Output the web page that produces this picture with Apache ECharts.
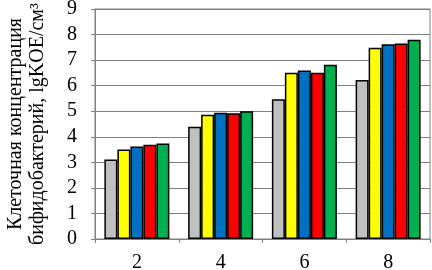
<!DOCTYPE html>
<html><head><meta charset="utf-8">
<script src="https://cdn.jsdelivr.net/npm/echarts@6/dist/echarts.min.js"></script>
<style>html,body{margin:0;padding:0;background:#fff}#c{width:432px;height:270px}</style>
</head><body><div id="c"></div>
<script>
var categories = ['2', '4', '6', '8'];
var seriesGray   = [3.11, 4.39, 5.47, 6.22];
var seriesYellow = [3.50, 4.86, 6.51, 7.48];
var seriesBlue   = [3.62, 4.94, 6.59, 7.62];
var seriesRed    = [3.69, 4.92, 6.51, 7.65];
var seriesGreen  = [3.74, 5.00, 6.82, 7.80];
var colors = ['#C0C0C0', '#FFFF00', '#0070C0', '#FF0000', '#00B050'];
var yTitle = 'Клеточная концентрация\nбифидобактерий, lgKOE/см³';

var chart = echarts.init(document.getElementById('c'), null, {renderer: 'canvas'});
var font = '"Liberation Serif", "Times New Roman", serif';
var all = [seriesGray, seriesYellow, seriesBlue, seriesRed, seriesGreen];
chart.setOption({
  animation: false,
  textStyle: {fontFamily: font},
  grid: {left: 95, right: 2, top: 9, bottom: 31, outerBoundsMode: 'none', containLabel: false,
         show: true, borderColor: '#808080', borderWidth: 1, backgroundColor: 'transparent'},
  xAxis: {
    type: 'category', data: categories,
    axisLine: {lineStyle: {color: '#808080', width: 1}},
    axisTick: {show: true, length: 4, lineStyle: {color: '#808080'}},
    axisLabel: {color: '#000', fontSize: 20, fontFamily: font, margin: 14}
  },
  yAxis: {
    type: 'value', min: 0, max: 9, interval: 1,
    name: yTitle, nameLocation: 'middle', nameRotate: 90, nameGap: 46,
    nameTextStyle: {color: '#000', fontSize: 20, fontFamily: font, lineHeight: 22, align: 'center'},
    axisLine: {show: true, lineStyle: {color: '#808080', width: 1}},
    axisTick: {show: true, length: 4, lineStyle: {color: '#808080'}},
    axisLabel: {color: '#000', fontSize: 20, fontFamily: font, margin: 18},
    splitLine: {show: true, lineStyle: {color: '#808080', width: 1}}
  },
  series: all.map(function (d, i) {
    return {
      type: 'bar', data: d, barWidth: 13, barGap: '0%', barCategoryGap: '22%',
      itemStyle: {color: colors[i], borderColor: '#000', borderWidth: 1.5}
    };
  })
});
</script></body></html>
